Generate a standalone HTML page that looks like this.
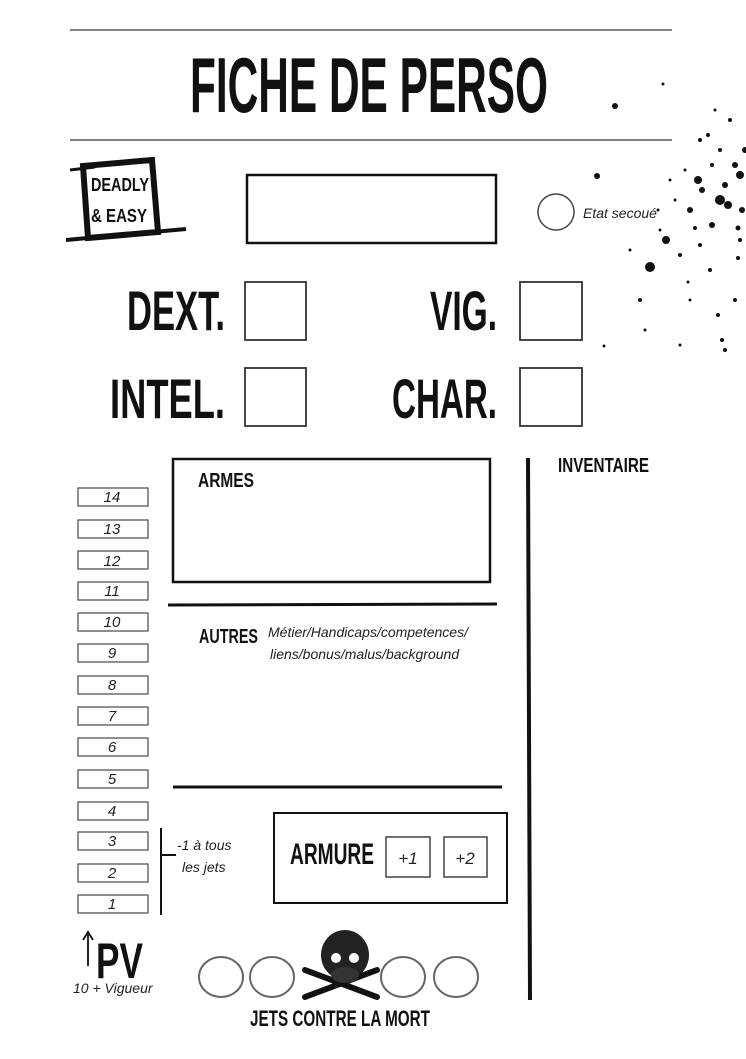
<!DOCTYPE html>
<html><head><meta charset="utf-8"><style>
html,body{margin:0;padding:0;background:#fff;}
svg{display:block;}
.t{font-family:"Liberation Sans Narrow","Liberation Sans",sans-serif;font-weight:bold;fill:#111;}
.i{font-family:"Liberation Sans","DejaVu Sans",sans-serif;font-style:italic;fill:#222;}
</style></head><body>
<svg width="746" height="1059" viewBox="0 0 746 1059" xmlns="http://www.w3.org/2000/svg">
<rect width="746" height="1059" fill="#fff"/>
<line x1="70" y1="30" x2="672" y2="30" stroke="#555" stroke-width="1.5"/>
<line x1="70" y1="140" x2="672" y2="140" stroke="#555" stroke-width="1.5"/>
<text class="t" x="190" y="112" font-size="78" textLength="358" lengthAdjust="spacingAndGlyphs">FICHE DE PERSO</text>

<!-- logo -->
<g stroke="#111" fill="none">
<polygon points="83,166 152,160 158,232 88,238" stroke-width="6"/>
<line x1="66" y1="240" x2="186" y2="229" stroke-width="4"/>
<line x1="70" y1="170" x2="95" y2="167" stroke-width="3"/>
</g>
<text class="t" x="91" y="191" font-size="18" textLength="58" lengthAdjust="spacingAndGlyphs">DEADLY</text>
<text class="t" x="91" y="222" font-size="18" textLength="56" lengthAdjust="spacingAndGlyphs">&amp; EASY</text>

<rect x="247" y="175" width="249" height="68" fill="none" stroke="#111" stroke-width="2.5"/>
<circle cx="556" cy="212" r="18" fill="none" stroke="#444" stroke-width="1.5"/>
<text class="i" x="583" y="218" font-size="14">Etat secoué</text>

<text class="t" x="127" y="330" font-size="56" textLength="98" lengthAdjust="spacingAndGlyphs">DEXT.</text>
<text class="t" x="430" y="330" font-size="56" textLength="67" lengthAdjust="spacingAndGlyphs">VIG.</text>
<text class="t" x="110" y="418" font-size="56" textLength="115" lengthAdjust="spacingAndGlyphs">INTEL.</text>
<text class="t" x="392" y="418" font-size="56" textLength="105" lengthAdjust="spacingAndGlyphs">CHAR.</text>
<g fill="none" stroke="#333" stroke-width="1.8">
<rect x="245" y="282" width="61" height="58"/>
<rect x="520" y="282" width="62" height="58"/>
<rect x="245" y="368" width="61" height="58"/>
<rect x="520" y="368" width="62" height="58"/>
</g>

<!-- HP -->
<g fill="none" stroke="#555" stroke-width="1.3">
<rect x="78" y="488" width="70" height="18"/><rect x="78" y="520" width="70" height="18"/>
<rect x="78" y="551" width="70" height="18"/><rect x="78" y="582" width="70" height="18"/>
<rect x="78" y="613" width="70" height="18"/><rect x="78" y="644" width="70" height="18"/>
<rect x="78" y="676" width="70" height="18"/><rect x="78" y="707" width="70" height="18"/>
<rect x="78" y="738" width="70" height="18"/><rect x="78" y="770" width="70" height="18"/>
<rect x="78" y="802" width="70" height="18"/><rect x="78" y="832" width="70" height="18"/>
<rect x="78" y="864" width="70" height="18"/><rect x="78" y="895" width="70" height="18"/>
</g>
<g class="i" font-size="15" text-anchor="middle">
<text x="112" y="502">14</text><text x="112" y="534">13</text><text x="112" y="566">12</text>
<text x="112" y="596">11</text><text x="112" y="627">10</text><text x="112" y="658">9</text>
<text x="112" y="690">8</text><text x="112" y="721">7</text><text x="112" y="752">6</text>
<text x="112" y="784">5</text><text x="112" y="816">4</text><text x="112" y="846">3</text>
<text x="112" y="878">2</text><text x="112" y="909">1</text>
</g>
<line x1="161" y1="828" x2="161" y2="915" stroke="#111" stroke-width="2"/>
<line x1="161" y1="855" x2="176" y2="855" stroke="#111" stroke-width="2"/>
<text class="i" x="177" y="850" font-size="14">-1 à tous</text>
<text class="i" x="182" y="872" font-size="14">les jets</text>

<line x1="88" y1="966" x2="88" y2="933" stroke="#111" stroke-width="1.8"/>
<polyline points="83,940 88,932 93,940" fill="none" stroke="#111" stroke-width="1.8"/>
<text class="t" x="96" y="978" font-size="50" textLength="47" lengthAdjust="spacingAndGlyphs">PV</text>
<text class="i" x="73" y="993" font-size="14">10 + Vigueur</text>

<!-- armes -->
<rect x="173" y="459" width="317" height="123" fill="none" stroke="#111" stroke-width="2.5"/>
<text class="t" x="198" y="487" font-size="20" textLength="56" lengthAdjust="spacingAndGlyphs">ARMES</text>
<line x1="168" y1="605" x2="497" y2="604" stroke="#111" stroke-width="3"/>
<text class="t" x="199" y="643" font-size="20" textLength="59" lengthAdjust="spacingAndGlyphs">AUTRES</text>
<text class="i" x="268" y="637" font-size="14">Métier/Handicaps/competences/</text>
<text class="i" x="270" y="659" font-size="14">liens/bonus/malus/background</text>
<line x1="173" y1="787" x2="502" y2="787" stroke="#111" stroke-width="3"/>

<rect x="274" y="813" width="233" height="90" fill="none" stroke="#111" stroke-width="2"/>
<text class="t" x="290" y="864" font-size="30" textLength="84" lengthAdjust="spacingAndGlyphs">ARMURE</text>
<rect x="386" y="837" width="44" height="40" fill="none" stroke="#444" stroke-width="1.5"/>
<rect x="444" y="837" width="43" height="40" fill="none" stroke="#444" stroke-width="1.5"/>
<text class="i" x="408" y="864" font-size="17" text-anchor="middle">+1</text>
<text class="i" x="465" y="864" font-size="17" text-anchor="middle">+2</text>

<line x1="528" y1="458" x2="530" y2="1000" stroke="#111" stroke-width="4"/>
<text class="t" x="558" y="472" font-size="20" textLength="91" lengthAdjust="spacingAndGlyphs">INVENTAIRE</text>

<!-- death -->
<g fill="none" stroke="#666" stroke-width="2">
<ellipse cx="221" cy="977" rx="22" ry="20"/><ellipse cx="272" cy="977" rx="22" ry="20"/>
<ellipse cx="403" cy="977" rx="22" ry="20"/><ellipse cx="456" cy="977" rx="22" ry="20"/>
</g>
<g stroke="#111" stroke-width="6" stroke-linecap="round">
<line x1="305" y1="970" x2="377" y2="997"/>
<line x1="305" y1="997" x2="377" y2="970"/>
</g>
<ellipse cx="345" cy="955" rx="24" ry="25" fill="#222"/>
<ellipse cx="345" cy="975" rx="14" ry="8" fill="#333"/>
<circle cx="336" cy="958" r="5" fill="#fff"/><circle cx="354" cy="958" r="5" fill="#fff"/>
<text class="t" x="250" y="1026" font-size="22" textLength="180" lengthAdjust="spacingAndGlyphs">JETS CONTRE LA MORT</text>

<!-- splatter -->
<g fill="#111">
<circle cx="615" cy="106" r="3"/><circle cx="663" cy="84" r="1.5"/><circle cx="597" cy="176" r="3"/>
<circle cx="650" cy="267" r="5"/><circle cx="666" cy="240" r="4"/><circle cx="698" cy="180" r="4"/>
<circle cx="702" cy="190" r="3"/><circle cx="720" cy="200" r="5"/><circle cx="728" cy="205" r="4"/>
<circle cx="735" cy="165" r="3"/><circle cx="720" cy="150" r="2"/><circle cx="740" cy="175" r="4"/>
<circle cx="730" cy="120" r="2"/><circle cx="742" cy="210" r="3"/><circle cx="700" cy="140" r="2"/>
<circle cx="690" cy="210" r="3"/><circle cx="712" cy="225" r="3"/><circle cx="740" cy="240" r="2"/>
<circle cx="700" cy="245" r="2"/><circle cx="680" cy="255" r="2"/><circle cx="710" cy="270" r="2"/>
<circle cx="735" cy="300" r="2"/><circle cx="722" cy="340" r="2"/><circle cx="688" cy="282" r="1.5"/>
<circle cx="640" cy="300" r="2"/><circle cx="645" cy="330" r="1.5"/><circle cx="604" cy="346" r="1.5"/>
<circle cx="680" cy="345" r="1.5"/><circle cx="718" cy="315" r="2"/><circle cx="725" cy="350" r="2"/>
<circle cx="660" cy="230" r="1.5"/><circle cx="675" cy="200" r="1.5"/><circle cx="685" cy="170" r="1.5"/>
<circle cx="715" cy="110" r="1.5"/><circle cx="708" cy="135" r="2"/><circle cx="745" cy="150" r="3"/>
<circle cx="738" cy="258" r="2"/><circle cx="690" cy="300" r="1.5"/><circle cx="670" cy="180" r="1.5"/>
<circle cx="658" cy="210" r="1.5"/><circle cx="725" cy="185" r="3"/><circle cx="712" cy="165" r="2"/>
<circle cx="695" cy="228" r="2"/><circle cx="738" cy="228" r="2.5"/><circle cx="630" cy="250" r="1.5"/>
</g>
</svg>
</body></html>
